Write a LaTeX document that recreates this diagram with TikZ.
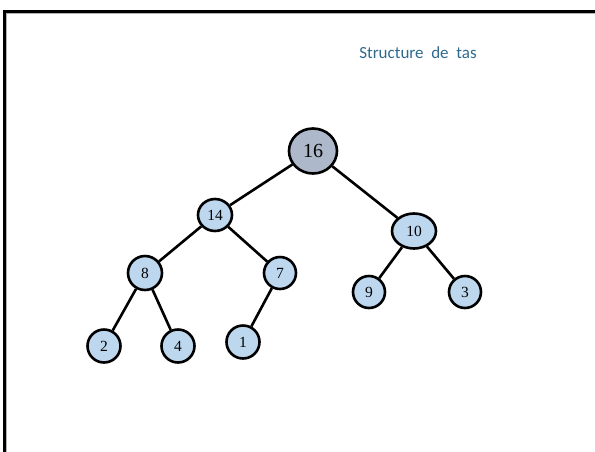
\documentclass[tikz,border=0pt]{standalone}
\usepackage{fontspec}
\setmainfont{Liberation Serif}
\newfontfamily\titlefont{Carlito}
\usetikzlibrary{shapes.geometric}
\definecolor{nodeblue}{HTML}{BDD7EE}
\definecolor{rootgray}{HTML}{ADB9CA}
\definecolor{titleblue}{HTML}{2E6A8E}
\tikzset{
  heapnode/.style={ellipse, draw=black, line width=2.6pt, fill=nodeblue, inner sep=0pt, font=\fontsize{15.5}{15.5}\selectfont},
  heapedge/.style={draw=black, line width=2.6pt},
}
\begin{document}
\begin{tikzpicture}[x=1pt,y=-1pt]
\useasboundingbox (0,0) rectangle (595,451);
\begin{scope}
\clip (0,0) rectangle (595,451);
\draw[gray!60, line width=4pt] (4.5,470) |- (620,11.5);
\draw[black, line width=2.6pt] (4.5,470) |- (620,11.5);
\end{scope}
\node[text=titleblue, font=\titlefont\fontsize{17}{17}\selectfont] (title) at (418,53) {Structure\ \ de\ \ tas};
\node[heapnode, fill=rootgray, minimum width=48pt, minimum height=45pt, font=\fontsize{20}{20}\selectfont] (n16) at (313,151) {16};
\node[heapnode, minimum width=34pt, minimum height=32pt] (n14) at (215,215) {14};
\node[heapnode, minimum width=44pt, minimum height=35pt] (n10) at (414,231) {10};
\node[heapnode, minimum width=34pt, minimum height=34pt] (n8) at (145,273) {8};
\node[heapnode, minimum width=32pt, minimum height=32pt] (n7) at (280,273) {7};
\node[heapnode, minimum width=32pt, minimum height=32pt] (n9) at (369,292) {9};
\node[heapnode, minimum width=32pt, minimum height=32pt] (n3) at (465,292) {3};
\node[heapnode, minimum width=33pt, minimum height=33pt] (n2) at (104,346) {2};
\node[heapnode, minimum width=33pt, minimum height=33pt] (n4) at (178,346) {4};
\node[heapnode, minimum width=33pt, minimum height=33pt] (n1) at (243,342) {1};
\draw[heapedge] (n16) -- (n14);
\draw[heapedge] (n16) -- (n10);
\draw[heapedge] (n14) -- (n8);
\draw[heapedge] (n14) -- (n7);
\draw[heapedge] (n10) -- (n9);
\draw[heapedge] (n10) -- (n3);
\draw[heapedge] (n8) -- (n2);
\draw[heapedge] (n8) -- (n4);
\draw[heapedge] (n7) -- (n1);
\end{tikzpicture}
\end{document}
